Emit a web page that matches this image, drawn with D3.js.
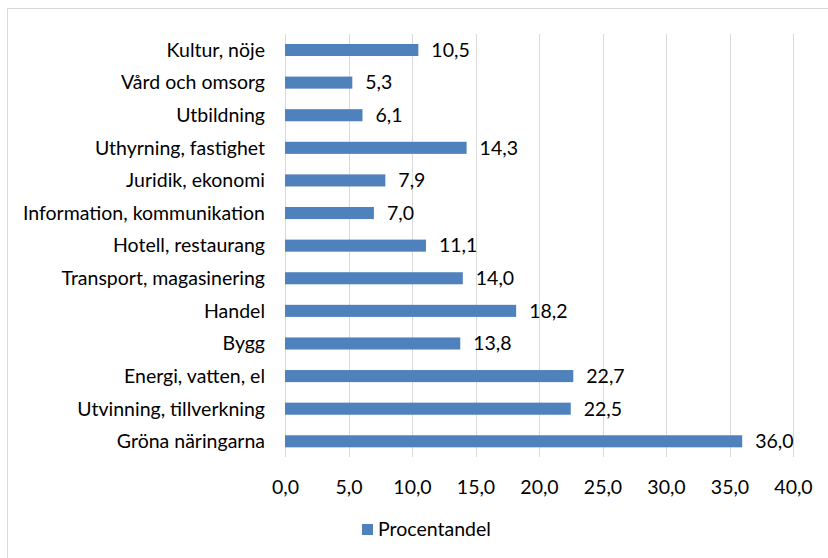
<!DOCTYPE html>
<html><head><meta charset="utf-8">
<script src="https://cdn.jsdelivr.net/npm/d3@7"></script>
<style>body{margin:0;background:#fff}svg{display:block}</style>
</head><body>
<svg id="c" width="828" height="558"></svg>
<script>
const categories = ["Kultur, nöje","Vård och omsorg","Utbildning","Uthyrning, fastighet","Juridik, ekonomi","Information, kommunikation","Hotell, restaurang","Transport, magasinering","Handel","Bygg","Energi, vatten, el","Utvinning, tillverkning","Gröna näringarna"];
const values = [10.5,5.3,6.1,14.3,7.9,7.0,11.1,14.0,18.2,13.8,22.7,22.5,36.0];
const ticks = [0,5,10,15,20,25,30,35,40];
const seriesName = "Procentandel";

const font = "Lato, 'Liberation Sans', sans-serif";
const fs = 19.5;
const svg = d3.select("#c");
svg.append("rect").attr("x",7.5).attr("y",8.5).attr("width",830).attr("height",560)
  .attr("fill","#fff").attr("stroke","#d9d9d9").attr("stroke-width",1);

const x = d3.scaleLinear().domain([0,40]).range([285,793]);
const y = d3.scaleBand().domain(categories).range([33.7,457.6]).paddingInner(0.63).paddingOuter(0.315);
const fmt = v => d3.format(".1f")(v).replace(".",",");

const g = svg.append("g");
g.selectAll("line.grid").data(ticks).join("line")
  .attr("x1",d=>Math.round(x(d))+0.5).attr("x2",d=>Math.round(x(d))+0.5)
  .attr("y1",34).attr("y2",457).attr("stroke","#d9d9d9").attr("stroke-width",1);

g.selectAll("rect.bar").data(values).join("rect")
  .attr("x",x(0)).attr("y",(d,i)=>y(categories[i]))
  .attr("width",d=>x(d)-x(0)).attr("height",y.bandwidth())
  .attr("fill","#4f81bd");

g.selectAll("text.val").data(values).join("text")
  .attr("x",d=>x(d)+13).attr("y",(d,i)=>y(categories[i])+y.bandwidth()/2)
  .attr("dy","0.35em").attr("font-family",font).attr("font-size",fs).attr("fill","#000")
  .text(fmt);

g.selectAll("text.cat").data(categories).join("text")
  .attr("x",265).attr("y",d=>y(d)+y.bandwidth()/2)
  .attr("dy","0.35em").attr("text-anchor","end").attr("font-family",font).attr("font-size",fs).attr("fill","#000")
  .text(d=>d);

const xAxis = d3.axisBottom(x).tickValues(ticks).tickSize(0).tickFormat(fmt);
const ax = svg.append("g").attr("transform","translate(0,477)").call(xAxis);
ax.select(".domain").remove();
ax.selectAll("text").attr("font-family",font).attr("font-size",fs).attr("fill","#000");

svg.append("rect").attr("x",362).attr("y",524).attr("width",11).attr("height",11).attr("fill","#4f81bd");
svg.append("text").attr("x",378).attr("y",536).attr("font-family",font).attr("font-size",fs).attr("fill","#000").text(seriesName);
</script>
</body></html>
